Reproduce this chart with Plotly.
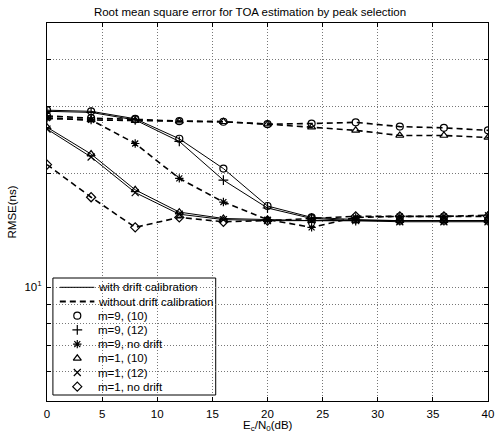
import plotly.graph_objects as go

x_db = [0, 4, 8, 12, 16, 20, 24, 28, 32, 36, 40]

# with drift calibration (solid)
sol_m9_10 = [29.4, 29.2, 27.9, 24.7, 20.6, 16.4, 15.3, 15.1, 15.0, 15.0, 15.0]
sol_m9_12 = [29.2, 29.0, 27.7, 24.3, 19.2, 16.2, 15.2, 15.0, 15.0, 15.0, 15.0]
sol_m1_10 = [26.5, 22.5, 18.1, 15.8, 15.2, 15.1, 15.0, 15.0, 15.0, 15.0, 15.0]
sol_m1_12 = [26.2, 22.1, 17.8, 15.6, 15.1, 15.0, 15.0, 15.0, 14.9, 14.9, 14.9]

# without drift calibration (dashed)
dsh_m9_10 = [28.4, 28.0, 27.8, 27.5, 27.4, 27.0, 27.1, 27.3, 26.6, 26.4, 26.0]
dsh_m1_10 = [28.0, 27.7, 27.6, 27.5, 27.4, 27.0, 26.5, 26.0, 25.2, 25.2, 24.9]
dsh_m9_nd = [28.0, 27.7, 24.0, 19.4, 16.8, 15.1, 14.4, 15.3, 15.4, 15.4, 15.5]
dsh_m1_nd = [21.1, 17.3, 14.4, 15.3, 14.9, 15.0, 15.2, 15.4, 15.4, 15.4, 15.4]

legend_names = ["with drift calibration", "without drift calibration",
                "m=9, (10)", "m=9, (12)", "m=9, no drift",
                "m=1, (10)", "m=1, (12)", "m=1, no drift"]

x_ticks = [0, 5, 10, 15, 20, 25, 30, 35, 40]
y_grid = [6, 7, 8, 9, 10, 20, 30, 40]
y_grid_text = ["", "", "", "", "10<sup>1</sup>", "", "", ""]

FONT = "Liberation Sans, Arial, sans-serif"
FS = 11.5
MS = 7
DASH = "6px,4px"
sym = {"c": "circle-open", "p": "cross-thin-open", "s": "asterisk-open",
       "t": "triangle-up-open", "x": "x-thin-open", "d": "diamond-open"}

# plot area in pixels
L, R, T, B = 47, 494, 23, 401
def px(xpix):
    return (xpix - L) / (R - L)
def py(ypix):
    return (B - ypix) / (B - T)

fig = go.Figure()

def add(y, s, dash):
    fig.add_trace(go.Scatter(
        x=x_db, y=y, mode="lines+markers", showlegend=False, hoverinfo="skip",
        line=dict(color="black", width=1.6 if dash else 1.0, dash=DASH if dash else "solid"),
        marker=dict(symbol=sym[s], size=MS, color="black", line=dict(color="black", width=1.2))))

add(sol_m9_10, "c", False)
add(sol_m9_12, "p", False)
add(sol_m1_10, "t", False)
add(sol_m1_12, "x", False)
add(dsh_m9_10, "c", True)
add(dsh_m1_10, "t", True)
add(dsh_m9_nd, "s", True)
add(dsh_m1_nd, "d", True)

# ---- hand-built legend (compact, MATLAB style) ----
shapes = [dict(type="rect", xref="paper", yref="paper",
               x0=px(53), x1=px(218), y0=py(395), y1=py(278),
               line=dict(color="black", width=1), fillcolor="white", layer="between")]
annots = []
row_y = [287.3 + 14.2 * i for i in range(len(legend_names))]
for i, nm in enumerate(legend_names):
    annots.append(dict(text=nm, xref="paper", yref="paper", x=px(97), y=py(row_y[i]),
                       xanchor="left", yanchor="middle", showarrow=False,
                       font=dict(size=FS)))
shapes.append(dict(type="line", xref="paper", yref="paper", x0=px(60), x1=px(95),
                   y0=py(row_y[0]), y1=py(row_y[0]), line=dict(color="black", width=1),
                   layer="above"))
shapes.append(dict(type="line", xref="paper", yref="paper", x0=px(60), x1=px(95),
                   y0=py(row_y[1]), y1=py(row_y[1]), line=dict(color="black", width=1.8, dash=DASH),
                   layer="above"))
leg_syms = ["c", "p", "s", "t", "x", "d"]
fig.add_trace(go.Scatter(
    x=[px(77.7)] * 6, y=[py(v) for v in row_y[2:]], xaxis="x2", yaxis="y2",
    mode="markers", showlegend=False, cliponaxis=False, hoverinfo="skip",
    marker=dict(symbol=[sym[s] for s in leg_syms], size=MS, color="black",
                line=dict(color="black", width=1.2))))

# axis titles as annotations
annots.append(dict(text="E<sub>c</sub>/N<sub>0</sub>(dB)", xref="paper", yref="paper",
                   x=0.5, y=py(417), xanchor="center", yanchor="top", showarrow=False,
                   font=dict(size=FS)))
annots.append(dict(text="RMSE(ns)", xref="paper", yref="paper",
                   x=px(12), y=0.5, xanchor="center", yanchor="middle", showarrow=False,
                   textangle=-90, font=dict(size=FS)))

fig.update_layout(
    width=500, height=437,
    margin=dict(l=L, r=500 - R, t=T, b=437 - B),
    paper_bgcolor="white", plot_bgcolor="white",
    font=dict(family=FONT, size=FS, color="black"),
    title=dict(text="Root mean square error for TOA estimation by peak selection",
               x=px(270.5), xanchor="center", y=1 - 11.5 / 437, yanchor="middle",
               font=dict(size=FS)),
    showlegend=False, hovermode=False,
    shapes=shapes, annotations=annots,
    xaxis2=dict(overlaying="x", range=[0, 1], visible=False, fixedrange=True),
    yaxis2=dict(overlaying="y", range=[0, 1], visible=False, fixedrange=True),
)
fig.layout.xaxis.update(range=[0, 40], tickvals=x_ticks,
                 showline=True, linecolor="black", linewidth=1, mirror="ticks",
                 ticks="inside", ticklen=4, tickcolor="black",
                 showgrid=True, gridcolor="#777", griddash="1px,2px", gridwidth=1,
                 zeroline=False, ticklabeloverflow="allow", ticklabelstandoff=2)
fig.layout.yaxis.update(type="log", range=[0.69897, 1.69897],
                 tickvals=y_grid, ticktext=y_grid_text,
                 showline=True, linecolor="black", linewidth=1, mirror="ticks",
                 ticks="inside", ticklen=4, tickcolor="black",
                 showgrid=True, gridcolor="#777", griddash="1px,2px", gridwidth=1,
                 zeroline=False, ticklabelstandoff=2)

fig.write_html("out.html", config={"displayModeBar": False, "staticPlot": True},
               post_script="document.body.style.margin='0px';document.body.style.overflow='hidden';")
